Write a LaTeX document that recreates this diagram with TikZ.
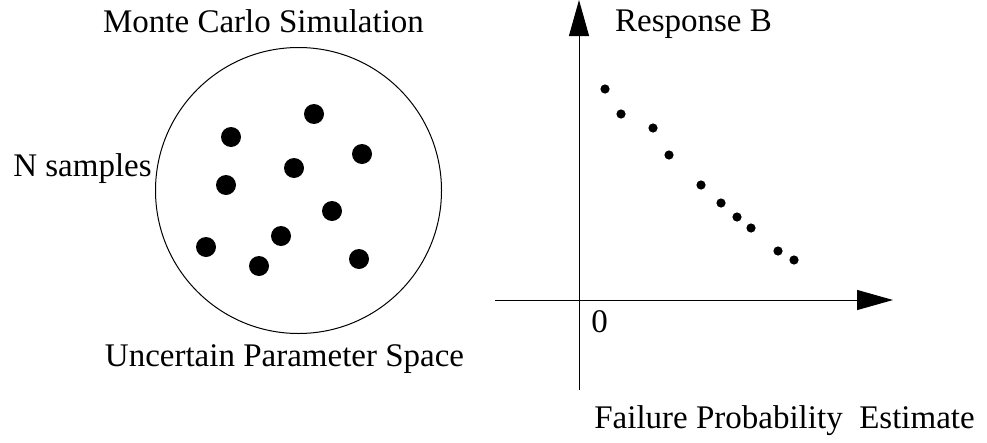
\documentclass[tikz,border=0pt]{standalone}
\usepackage{fontspec}
\setmainfont{Liberation Serif}
\usepackage{tikz}
\usetikzlibrary{arrows.meta}

\begin{document}
\begin{tikzpicture}[x=1pt,y=-1pt,line width=1pt,
  lbl/.style={anchor=base,inner sep=0pt,font=\fontsize{33}{40}\selectfont},
  axis/.style={-{Triangle[length=36pt,width=20pt]}}]
\useasboundingbox (0,0) rectangle (987,442);
% sample space
\draw (298.5,190.5) circle (143);
\fill (314,114) circle (10);
\fill (231,137) circle (10);
\fill (362,154) circle (10);
\fill (294,168) circle (10);
\fill (226,185) circle (10);
\fill (332,211) circle (10);
\fill (281,236) circle (10);
\fill (206,247) circle (10);
\fill (259,266) circle (10);
\fill (359,259) circle (10);
\node[lbl] (mc) at (263.5,32) {Monte Carlo Simulation};
\node[lbl] (ns) at (82.5,176) {N samples};
\node[lbl] (ups) at (284.5,366) {Uncertain Parameter Space};
% response plot
\coordinate (ybot) at (579,390);
\coordinate (ytop) at (579,0);
\coordinate (xleft) at (495,300);
\coordinate (xright) at (893,300);
\draw[axis] (ybot) -- (ytop);
\draw[axis] (xleft) -- (xright);
\fill (605,89) circle (4.6);
\fill (621,114) circle (4.6);
\fill (653,128) circle (4.6);
\fill (669,155) circle (4.6);
\fill (701,185) circle (4.6);
\fill (721,203) circle (4.6);
\fill (737,217) circle (4.6);
\fill (751,228) circle (4.6);
\fill (778,251) circle (4.6);
\fill (794,260) circle (4.6);
\node[lbl] (resp) at (693.5,31) {Response B};
\node[lbl] (zero) at (599.5,332) {0};
\node[lbl] (fpe) at (784.5,428) {Failure Probability~~Estimate};
\end{tikzpicture}
\end{document}
